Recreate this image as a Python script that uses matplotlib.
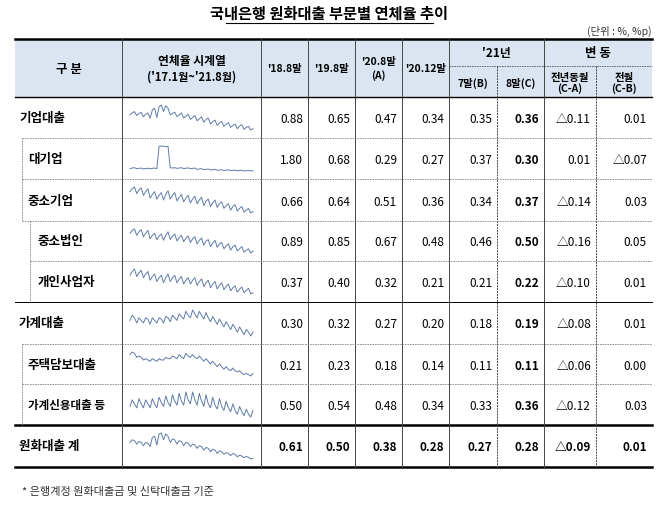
import matplotlib
matplotlib.use("Agg")
import matplotlib.pyplot as plt
from matplotlib.patches import Rectangle

plt.rcParams["font.family"] = ["Noto Sans CJK JP", "Noto Sans CJK KR", "Noto Sans CJK SC", "DejaVu Sans"]

TITLE = "국내은행 원화대출 부문별 연체율 추이"
UNIT = "(단위 : %, %p)"
FOOTNOTE = "* 은행계정 원화대출금 및 신탁대출금 기준"

ROW_LABELS = ["기업대출", "대기업", "중소기업", "중소법인", "개인사업자",
              "가계대출", "주택담보대출", "가계신용대출 등", "원화대출 계"]
ROW_INDENT = [0, 1, 1, 2, 2, 0, 1, 1, 0]
VALUES = [
    ["0.88", "0.65", "0.47", "0.34", "0.35", "0.36", "△0.11", "0.01"],
    ["1.80", "0.68", "0.29", "0.27", "0.37", "0.30", "0.01", "△0.07"],
    ["0.66", "0.64", "0.51", "0.36", "0.34", "0.37", "△0.14", "0.03"],
    ["0.89", "0.85", "0.67", "0.48", "0.46", "0.50", "△0.16", "0.05"],
    ["0.37", "0.40", "0.32", "0.21", "0.21", "0.22", "△0.10", "0.01"],
    ["0.30", "0.32", "0.27", "0.20", "0.18", "0.19", "△0.08", "0.01"],
    ["0.21", "0.23", "0.18", "0.14", "0.11", "0.11", "△0.06", "0.00"],
    ["0.50", "0.54", "0.48", "0.34", "0.33", "0.36", "△0.12", "0.03"],
    ["0.61", "0.50", "0.38", "0.28", "0.27", "0.28", "△0.09", "0.01"],
]

# monthly delinquency series, '17.1 ~ '21.8 (read roughly from sparklines)
SPARK = [
    [0.80, 0.86, 0.90, 0.78, 0.84, 0.88, 0.74, 0.82, 0.86, 0.70, 0.95, 1.00, 0.72, 1.05, 1.10, 0.90, 1.08, 1.00, 0.80,
     0.84, 0.88, 0.75, 0.80, 0.86, 0.70, 0.76, 0.82, 0.66, 0.72, 0.78, 0.62, 0.68, 0.74, 0.58, 0.66, 0.70, 0.52,
     0.60, 0.64, 0.48, 0.56, 0.60, 0.45, 0.52, 0.56, 0.42, 0.48, 0.52, 0.38, 0.46, 0.50, 0.36, 0.42, 0.45, 0.34, 0.38],
    [0.45, 0.48, 0.50, 0.44, 0.46, 0.48, 0.42, 0.45, 0.47, 0.43, 0.46, 0.48, 0.44, 1.80, 1.82, 1.80, 1.78, 1.80, 0.50,
     0.48, 0.50, 0.46, 0.48, 0.50, 0.45, 0.47, 0.49, 0.44, 0.46, 0.48, 0.40, 0.42, 0.44, 0.38, 0.40, 0.42, 0.36,
     0.38, 0.40, 0.34, 0.36, 0.38, 0.33, 0.35, 0.37, 0.32, 0.34, 0.36, 0.31, 0.33, 0.35, 0.30, 0.32, 0.34, 0.30, 0.32],
    [0.80, 0.86, 0.90, 0.76, 0.84, 0.88, 0.72, 0.80, 0.86, 0.66, 0.74, 0.80, 0.64, 0.72, 0.78, 0.62, 0.74, 0.82, 0.64,
     0.72, 0.78, 0.60, 0.68, 0.74, 0.58, 0.66, 0.72, 0.56, 0.64, 0.70, 0.54, 0.62, 0.68, 0.50, 0.60, 0.64, 0.48,
     0.56, 0.62, 0.46, 0.54, 0.58, 0.44, 0.50, 0.54, 0.40, 0.48, 0.52, 0.38, 0.44, 0.48, 0.36, 0.40, 0.44, 0.34, 0.37],
    [1.00, 1.08, 1.12, 0.94, 1.04, 1.10, 0.90, 1.00, 1.08, 0.84, 0.94, 1.00, 0.82, 0.92, 0.98, 0.80, 0.94, 1.04, 0.82,
     0.92, 0.98, 0.78, 0.88, 0.94, 0.76, 0.86, 0.92, 0.74, 0.84, 0.90, 0.70, 0.80, 0.86, 0.66, 0.78, 0.82, 0.62,
     0.72, 0.80, 0.60, 0.70, 0.74, 0.56, 0.64, 0.70, 0.52, 0.62, 0.66, 0.50, 0.56, 0.62, 0.46, 0.52, 0.56, 0.44, 0.50],
    [0.50, 0.56, 0.60, 0.48, 0.54, 0.58, 0.46, 0.52, 0.56, 0.42, 0.48, 0.52, 0.40, 0.46, 0.50, 0.38, 0.46, 0.52, 0.40,
     0.46, 0.50, 0.38, 0.44, 0.48, 0.36, 0.42, 0.46, 0.36, 0.42, 0.46, 0.34, 0.40, 0.44, 0.32, 0.38, 0.42, 0.30,
     0.36, 0.40, 0.28, 0.34, 0.38, 0.27, 0.32, 0.36, 0.25, 0.30, 0.33, 0.23, 0.28, 0.31, 0.22, 0.26, 0.29, 0.20, 0.22],
    [0.28, 0.32, 0.30, 0.26, 0.30, 0.28, 0.26, 0.30, 0.29, 0.25, 0.30, 0.28, 0.26, 0.30, 0.29, 0.26, 0.31, 0.30, 0.27,
     0.32, 0.30, 0.28, 0.33, 0.31, 0.29, 0.35, 0.32, 0.30, 0.36, 0.33, 0.30, 0.35, 0.32, 0.29, 0.34, 0.30, 0.27,
     0.31, 0.28, 0.25, 0.29, 0.26, 0.23, 0.27, 0.24, 0.21, 0.25, 0.22, 0.19, 0.23, 0.20, 0.17, 0.21, 0.19, 0.16, 0.19],
    [0.25, 0.27, 0.26, 0.23, 0.24, 0.23, 0.21, 0.22, 0.21, 0.20, 0.22, 0.21, 0.20, 0.22, 0.21, 0.21, 0.23, 0.22, 0.22,
     0.24, 0.23, 0.22, 0.25, 0.23, 0.22, 0.26, 0.24, 0.23, 0.25, 0.23, 0.22, 0.24, 0.22, 0.20, 0.22, 0.20, 0.18,
     0.20, 0.18, 0.16, 0.18, 0.16, 0.14, 0.16, 0.14, 0.13, 0.15, 0.13, 0.12, 0.13, 0.11, 0.10, 0.11, 0.10, 0.09, 0.11],
    [0.42, 0.52, 0.46, 0.40, 0.54, 0.46, 0.40, 0.52, 0.46, 0.40, 0.54, 0.46, 0.40, 0.56, 0.48, 0.42, 0.58, 0.48, 0.42,
     0.60, 0.50, 0.44, 0.62, 0.50, 0.44, 0.64, 0.52, 0.46, 0.64, 0.52, 0.44, 0.62, 0.50, 0.42, 0.60, 0.46, 0.40,
     0.56, 0.44, 0.38, 0.54, 0.42, 0.36, 0.50, 0.40, 0.34, 0.46, 0.36, 0.30, 0.42, 0.34, 0.28, 0.38, 0.30, 0.26, 0.36],
    [0.66, 0.72, 0.70, 0.62, 0.68, 0.66, 0.58, 0.66, 0.64, 0.56, 0.78, 0.80, 0.60, 0.86, 0.88, 0.72, 0.86, 0.80, 0.66,
     0.74, 0.72, 0.62, 0.70, 0.68, 0.58, 0.66, 0.64, 0.56, 0.62, 0.60, 0.52, 0.58, 0.56, 0.48, 0.54, 0.52, 0.44,
     0.50, 0.48, 0.40, 0.46, 0.44, 0.38, 0.42, 0.40, 0.35, 0.40, 0.38, 0.32, 0.36, 0.34, 0.30, 0.33, 0.31, 0.27, 0.29],
]

HEAD_BLUE = "#dbe5f1"
LINE_BLUE = "#5f7ba8"

COLS = [15, 122, 261, 308, 355, 402, 449, 497, 544, 596, 652]
HEAD_TOP, HEAD_MID, HEAD_BOT = 40, 67, 98
ROW_Y = [98, 139, 180, 222, 262, 303, 345, 385, 426, 468]

fig = plt.figure(figsize=(6.58, 5.06), dpi=100)
ax = fig.add_axes([0, 0, 1, 1])
ax.set_xlim(0, 658)
ax.set_ylim(506, 0)
ax.axis("off")

ax.text(329, 14, TITLE, ha="center", va="center", fontsize=11, fontweight="bold")
ax.plot([226, 433], [24, 24], color="black", lw=0.8)
ax.text(652, 31, UNIT, ha="right", va="center", fontsize=7.5, color="#333333")

ax.add_patch(Rectangle((COLS[0], HEAD_TOP), COLS[-1] - COLS[0], HEAD_BOT - HEAD_TOP,
                       facecolor=HEAD_BLUE, edgecolor="none"))
hy = (HEAD_TOP + HEAD_BOT) / 2
ax.text((COLS[0] + COLS[1]) / 2, hy, "구 분", ha="center", va="center", fontsize=9, fontweight="bold")
ax.text((COLS[1] + COLS[2]) / 2, hy - 8, "연체율 시계열", ha="center", va="center", fontsize=8.5, fontweight="bold")
ax.text((COLS[1] + COLS[2]) / 2, hy + 8, "('17.1월~'21.8월)", ha="center", va="center", fontsize=8, fontweight="bold")
for i, lab in enumerate(["'18.8말", "'19.8말", "'20.8말\n(A)", "'20.12말"]):
    ax.text((COLS[2 + i] + COLS[3 + i]) / 2, hy, lab, ha="center", va="center", fontsize=7.5,
            fontweight="bold", linespacing=1.3)
ax.text((COLS[6] + COLS[8]) / 2, (HEAD_TOP + HEAD_MID) / 2, "'21년", ha="center", va="center",
        fontsize=8.5, fontweight="bold")
ax.text((COLS[8] + COLS[10]) / 2, (HEAD_TOP + HEAD_MID) / 2, "변 동", ha="center", va="center",
        fontsize=9, fontweight="bold")
sub = ["7말(B)", "8말(C)", "전년동월\n(C-A)", "전월\n(C-B)"]
for i, lab in enumerate(sub):
    ax.text((COLS[6 + i] + COLS[7 + i]) / 2, (HEAD_MID + HEAD_BOT) / 2 + 1, lab, ha="center", va="center",
            fontsize=7.5, fontweight="bold", linespacing=0.95)
ax.plot([COLS[6], COLS[10]], [HEAD_MID, HEAD_MID], color="#555555", lw=0.6, ls=(0, (2, 1)))

# table lines
ax.plot([COLS[0], COLS[-1]], [HEAD_TOP, HEAD_TOP], color="black", lw=1.8)
ax.plot([COLS[0], COLS[-1]], [HEAD_BOT, HEAD_BOT], color="black", lw=1.0)
ax.plot([COLS[0], COLS[-1]], [ROW_Y[-2], ROW_Y[-2]], color="black", lw=1.8)
ax.plot([COLS[0], COLS[-1]], [ROW_Y[-1], ROW_Y[-1]], color="black", lw=1.8)
for x in COLS[1:-1]:
    dotted = x in (COLS[7], COLS[9])
    y0 = HEAD_MID if dotted else HEAD_TOP
    ax.plot([x, x], [y0, ROW_Y[-1]], color="#444444", lw=0.7, ls=(0, (2, 1)) if dotted else "-")

indent_x = [COLS[0], 22, 30]
for r in range(1, len(ROW_Y) - 2):
    y = ROW_Y[r]
    nxt = ROW_INDENT[r]
    prev = ROW_INDENT[r - 1]
    if nxt == 0:
        ax.plot([COLS[0], COLS[-1]], [y, y], color="black", lw=0.7)
    else:
        xs = indent_x[min(nxt, prev) if prev else nxt]
        ax.plot([xs, COLS[-1]], [y, y], color="#888888", lw=0.6, ls=(0, (2, 1)))
for r, ind in enumerate(ROW_INDENT):
    if ind:
        ax.plot([indent_x[ind]] * 2, [ROW_Y[r], ROW_Y[r + 1]], color="#888888", lw=0.6, ls=(0, (2, 1)))

for r, lab in enumerate(ROW_LABELS):
    yc = (ROW_Y[r] + ROW_Y[r + 1]) / 2
    ax.text(indent_x[ROW_INDENT[r]] + 4 + 2 * ROW_INDENT[r], yc, lab, ha="left", va="center",
            fontsize=9 if len(lab) < 7 else 8.3, fontweight="bold")
    for c, v in enumerate(VALUES[r]):
        bold = c == 5 or r == len(ROW_LABELS) - 1
        ax.text(COLS[3 + c] - 5, yc + 1, v, ha="right", va="center", fontsize=8.5,
                fontweight="bold" if bold else "normal")
    # sparkline
    s = SPARK[r]
    x0, x1 = COLS[1] + 8, COLS[2] - 8
    top, bot = ROW_Y[r] + 8, ROW_Y[r + 1] - 8
    lo, hi = min(s), max(s)
    xs = [x0 + (x1 - x0) * i / (len(s) - 1) for i in range(len(s))]
    ys = [bot - (v - lo) / (hi - lo) * (bot - top) for v in s]
    ax.plot(xs, ys, color=LINE_BLUE, lw=0.7)

ax.text(22, 492, FOOTNOTE, ha="left", va="center", fontsize=8, color="#333333")

fig.savefig("out.png", dpi=100)
